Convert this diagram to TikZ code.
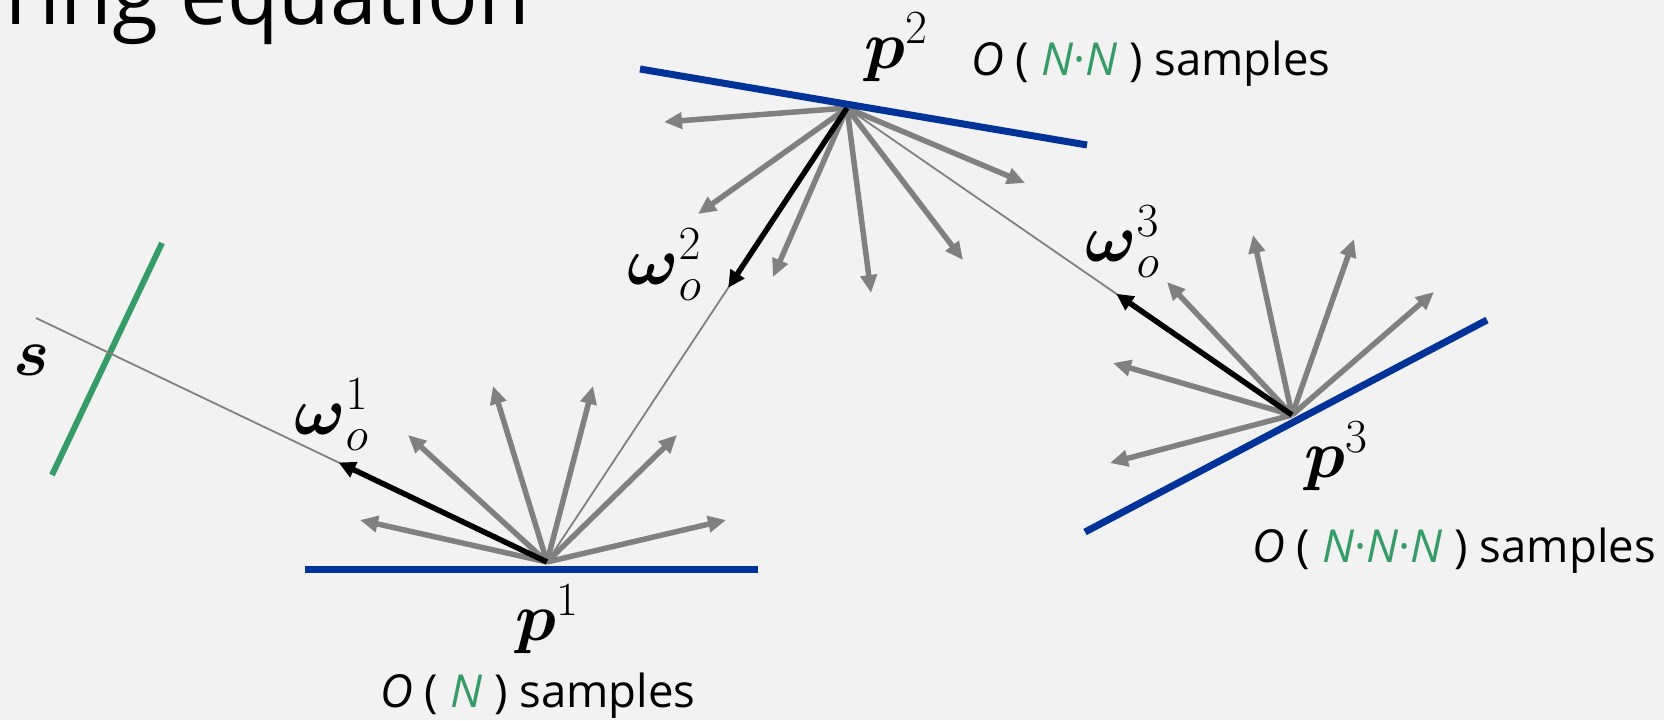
\documentclass[tikz,border=0pt]{standalone}
\usepackage{fix-cm}
\usepackage{amsmath}
\usepackage{fontspec}
\setmainfont{Open Sans}
\usetikzlibrary{arrows.meta,calc}
\definecolor{bg}{RGB}{242,242,242}
\definecolor{surf}{RGB}{0,51,153}
\definecolor{lgreen}{RGB}{53,155,103}
\definecolor{raygray}{RGB}{128,128,128}
\tikzset{
  surface/.style={surf, line width=7pt},
  lightsrc/.style={lgreen, line width=6pt},
  sample/.style={raygray, line width=5.5pt, -{Triangle[length=18pt,width=16pt]}},
  chosen/.style={black, line width=5.5pt, -{Triangle[length=17pt,width=16pt]}},
  raypath/.style={raygray, line width=1.8pt},
  mathlbl/.style={anchor=base west, inner sep=0pt, font=\fontsize{68}{76}\selectfont},
  txtlbl/.style={anchor=base west, inner sep=0pt, font=\fontsize{45.5}{52}\selectfont},
}
\begin{document}
\begin{tikzpicture}[x=1pt,y=-1pt]
\fill[bg] (0,0) rectangle (1664,720);
\useasboundingbox (0,0) rectangle (1664,720);

% title (cropped at top)
\node[anchor=base west, inner sep=0pt, font=\fontsize{84}{94}\selectfont] (title) at (5,24) {ring equation};

% key points
\coordinate (p1) at (547,562);
\coordinate (p2) at (847,108);
\coordinate (p3) at (1292,415);
\coordinate (s0) at (36,318);

% surfaces and light
\coordinate (a1) at (305,569);  \coordinate (b1) at (758,569);
\coordinate (a2) at (640,69);   \coordinate (b2) at (1087,145);
\coordinate (a3) at (1085,532); \coordinate (b3) at (1487,320);
\coordinate (ga) at (162,243);  \coordinate (gb) at (52,475);

% chosen directions
\coordinate (w1) at ($(p1)!0.408!(s0)$);
\coordinate (w2) at ($(p2)!0.396!(p1)$);
\coordinate (w3) at ($(p3)!0.395!(p2)$);

% fan tips p1
\coordinate (t11) at (360,520);
\coordinate (t12) at (408,435);
\coordinate (t13) at (493,386);
\coordinate (t14) at (593,386);
\coordinate (t15) at (677,435);
\coordinate (t16) at (726,520);
% fan tips p2
\coordinate (t21) at (664,122);
\coordinate (t22) at (698,214);
\coordinate (t23) at (773,277);
\coordinate (t24) at (871,293);
\coordinate (t25) at (963,260);
\coordinate (t26) at (1025,183);
% fan tips p3
\coordinate (t31) at (1110,463);
\coordinate (t32) at (1113,363);
\coordinate (t33) at (1167,282);
\coordinate (t34) at (1253,235);
\coordinate (t35) at (1354,239);
\coordinate (t36) at (1434,292);

% light source
\draw[lightsrc] (ga) -- (gb);

% thin path
\draw[raypath] (s0) -- (p1);
\draw[raypath] (p1) -- (p2);
\draw[raypath] (p2) -- (p3);

% sample fans
\foreach \i in {1,...,6} {
  \draw[sample] (p1) -- (t1\i);
  \draw[sample] (p2) -- (t2\i);
  \draw[sample] (p3) -- (t3\i);
}

% chosen directions
\draw[chosen] (p1) -- (w1);
\draw[chosen] (p2) -- (w2);
\draw[chosen] (p3) -- (w3);

% surfaces
\draw[surface] (a1) -- (b1);
\draw[surface] (a2) -- (b2);
\draw[surface] (a3) -- (b3);

% labels
\node[mathlbl] (ls) at (13,375) {$\boldsymbol{s}$};
\node[mathlbl] (lw1) at (294,434) {$\boldsymbol{\omega}_o^1$};
\node[mathlbl] (lw2) at (627,284) {$\boldsymbol{\omega}_o^2$};
\node[mathlbl] (lw3) at (1085,261) {$\boldsymbol{\omega}_o^3$};
\node[mathlbl] (lp1) at (515,640) {$\boldsymbol{p}^1$};
\node[mathlbl] (lp2) at (864,68) {$\boldsymbol{p}^2$};
\node[mathlbl] (lp3) at (1304,477) {$\boldsymbol{p}^3$};

\node[txtlbl] (c1) at (380,707) {\textit{O} ( \textcolor{lgreen}{\textit{N}} ) samples};
\node[txtlbl] (c2) at (971,75) {\textit{O} ( \textcolor{lgreen}{\textit{N}·\textit{N}} ) samples};
\node[txtlbl] (c3) at (1252,562) {\textit{O} ( \textcolor{lgreen}{\textit{N}·\textit{N}·\textit{N}} ) samples};
\end{tikzpicture}
\end{document}
